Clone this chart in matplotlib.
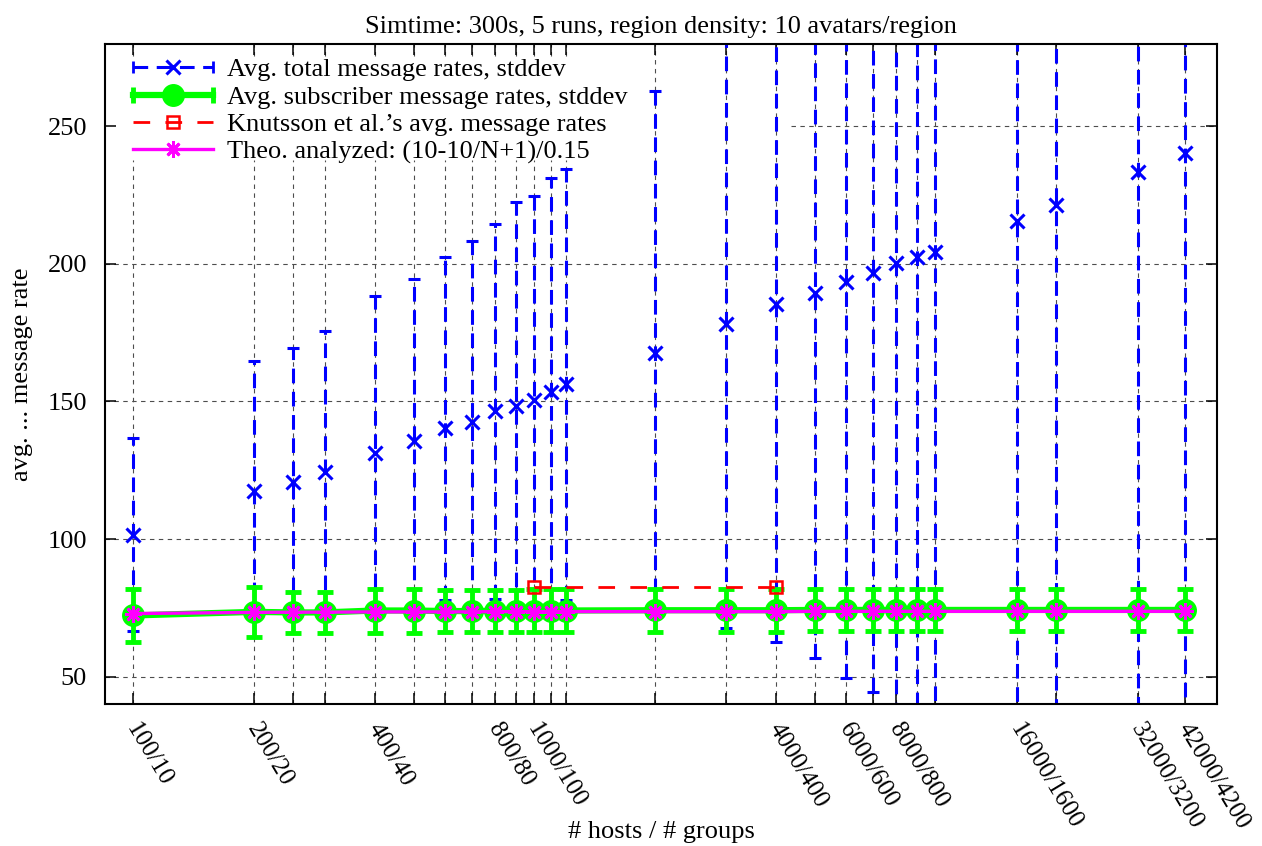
import matplotlib
matplotlib.use('Agg')
import matplotlib.pyplot as plt
from matplotlib.lines import Line2D
from matplotlib.legend_handler import HandlerLine2D, HandlerTuple
from matplotlib.transforms import ScaledTranslation
from matplotlib.ticker import NullLocator, FixedLocator

# ---------------- data ----------------
hosts = [100, 200, 250, 300, 400, 500, 600, 700, 800, 900, 1000, 1100, 1200,
         2000, 3000, 4000, 5000, 6000, 7000, 8000, 9000, 10000, 16000, 20000,
         32000, 42000]

total_mean = [101.6, 117.6, 120.9, 124.5, 131.1, 135.5, 140.2, 142.7, 146.4,
              148.5, 150.4, 153.3, 156.2, 167.5, 178.0, 185.3, 189.6, 193.6,
              196.9, 200.2, 202.4, 204.5, 215.5, 221.3, 233.6, 240.5]
total_sd = [35.0, 47.0, 48.4, 51.3, 57.4, 58.9, 62.2, 65.8, 68.3, 74.2, 74.5,
            77.8, 78.5, 95.5, 110.2, 122.9, 132.7, 144.0, 152.7, 165.0, 172.0,
            180.0, 200.0, 210.0, 230.0, 240.0]

sub_mean = [72.2, 73.5, 73.3, 73.3, 74.0, 74.0, 73.8, 73.8, 73.9, 73.9, 74.0,
            74.0, 74.0, 74.1, 74.1, 74.1, 74.2, 74.2, 74.2, 74.2, 74.2, 74.2,
            74.2, 74.2, 74.2, 74.2]
sub_sd = [9.8, 9.1, 7.3, 7.3, 8.0, 8.0, 7.5, 7.5, 7.6, 7.6, 7.7, 7.7, 7.7,
          7.8, 7.8, 7.8, 7.8, 7.8, 7.8, 7.8, 7.8, 7.8, 7.8, 7.8, 7.8, 7.8]

knut_hosts = [1000, 4000]
knut_rate = [82.4, 82.4]

theo_rate = [72.9, 73.3, 73.4, 73.4, 73.5, 73.5, 73.5, 73.5, 73.6, 73.6, 73.6,
             73.6, 73.6, 73.6, 73.6, 73.6, 73.7, 73.7, 73.7, 73.7, 73.7, 73.7,
             73.7, 73.7, 73.7, 73.7]

tick_labels = {100: '100/10', 200: '200/20', 400: '400/40', 800: '800/80',
               1000: '1000/100', 4000: '4000/400', 6000: '6000/600',
               8000: '8000/800', 16000: '16000/1600', 32000: '32000/3200',
               42000: '42000/4200'}
y_ticks = [50, 100, 150, 200, 250]

series_labels = ['Avg. total message rates, stddev',
                 'Avg. subscriber message rates, stddev',
                 'Knutsson et al.\u2019s avg. message rates',
                 'Theo. analyzed: (10-10/N+1)/0.15']

# ---------------- style ----------------
FS = 19
plt.rcParams['font.family'] = ['Liberation Serif', 'DejaVu Serif']
plt.rcParams['font.size'] = FS

BLUE = '#0000ff'
GREEN = '#00ff00'
RED = '#ff0000'
MAG = '#ff00ff'
blue_dash = (0, (4.8, 2.8))
red_dash = (0, (6.0, 5.5))

W, H = 1262, 846
fig = plt.figure(figsize=(W / 100, H / 100), dpi=100)
ax = fig.add_axes([105 / W, 1 - 704 / H, 1112 / W, 660 / H])
ax.set_xscale('log')
ax.set_xlim(85, 50400)
ax.set_ylim(40, 280)

# ---------------- grid (gnuplot-like, skipping the key area) ----------------
grid_kw = dict(color='0.3', lw=0.8, linestyle=(0, (4, 4)), zorder=1)
xt = ax.get_xaxis_transform()
for h in hosts:
    if h <= 1200:
        ax.plot([h, h], [0, 0.824], transform=xt, **grid_kw)
        ax.plot([h, h], [0.982, 1], transform=xt, **grid_kw)
    else:
        ax.plot([h, h], [0, 1], transform=xt, **grid_kw)
for yv in y_ticks:
    if yv == 250:
        ax.plot([4355, 50400], [yv, yv], **grid_kw)
    else:
        ax.plot([85, 50400], [yv, yv], **grid_kw)

# ---------------- data series ----------------
eb = ax.errorbar(hosts, total_mean, yerr=total_sd, fmt='x', color=BLUE,
                 ms=9.5, mew=2.2, ecolor=BLUE, elinewidth=2.2, capsize=4.3,
                 capthick=2.0, zorder=3)
eb[2][0].set_linestyle(blue_dash)

ax.errorbar(hosts, sub_mean, yerr=sub_sd, fmt='-o', color=GREEN, lw=4.5,
            ms=15.5, ecolor=GREEN, elinewidth=3.5, capsize=5.8, capthick=3.5,
            zorder=4)

ax.plot(knut_hosts, knut_rate, color=RED, lw=2.0, ls=red_dash, marker='s',
        ms=9, mfc='none', mew=1.8, zorder=5)

ax.plot(hosts, theo_rate, color=MAG, lw=2.4, marker=(8, 2, 0), ms=12,
        mew=2.0, zorder=6)

# ---------------- axes / ticks ----------------
for s in ax.spines.values():
    s.set_linewidth(1.5)
    s.set_zorder(10)

ax.xaxis.set_major_locator(FixedLocator(hosts))
ax.xaxis.set_minor_locator(NullLocator())
ax.set_xticklabels([tick_labels.get(h, '') for h in hosts], rotation=-59,
                   ha='left', va='baseline', rotation_mode='anchor',
                   fontsize=18)
ax.set_yticks(y_ticks)
ax.tick_params(axis='both', direction='in', length=8, width=1.1,
               top=True, right=True)
ax.tick_params(axis='y', labelsize=FS, pad=13)
ax.tick_params(axis='x', pad=17.5)
off = ScaledTranslation(-7.5 / 100, 0, fig.dpi_scale_trans)
for t in ax.xaxis.get_major_ticks():
    t.label1.set_transform(t.label1.get_transform() + off)

ax.set_xlabel('# hosts / # groups', fontsize=FS)
ax.xaxis.set_label_coords(0.5, -0.178)
ax.set_ylabel('avg. ... message rate', fontsize=FS)
ax.yaxis.set_label_coords(-0.065, 0.5)
ax.set_title('Simtime: 300s, 5 runs, region density: 10 avatars/region',
             fontsize=FS, pad=8)

# ---------------- legend ----------------
blue_line = Line2D([], [], color=BLUE, ls=blue_dash, lw=2.2, marker='x',
                   ms=9.5, mew=2.2)
blue_caps = Line2D([], [], color=BLUE, ls='none', marker='|', ms=9, mew=2.0)
green_line = Line2D([], [], color=GREEN, lw=4.5, marker='o', ms=15.5)
green_caps = Line2D([], [], color=GREEN, ls='none', marker='|', ms=12,
                    mew=3.5)
red_line = Line2D([], [], color=RED, lw=2.0, ls=red_dash, marker='s', ms=9,
                  mfc='none', mew=1.8)
mag_line = Line2D([], [], color=MAG, lw=2.4, marker=(8, 2, 0), ms=12,
                  mew=2.0)
hmap = {blue_caps: HandlerLine2D(numpoints=2, marker_pad=0),
        green_caps: HandlerLine2D(numpoints=2, marker_pad=0),
        tuple: HandlerTuple(ndivide=1)}
ax.legend([(blue_line, blue_caps), (green_line, green_caps), red_line,
           mag_line], series_labels, loc='upper left',
          bbox_to_anchor=(0.025, 0.979), borderaxespad=0, borderpad=0,
          frameon=False, handlelength=3.03, handletextpad=0.53,
          labelspacing=0.15, numpoints=1, handler_map=hmap, fontsize=FS)

fig.savefig('out.png', dpi=100)
